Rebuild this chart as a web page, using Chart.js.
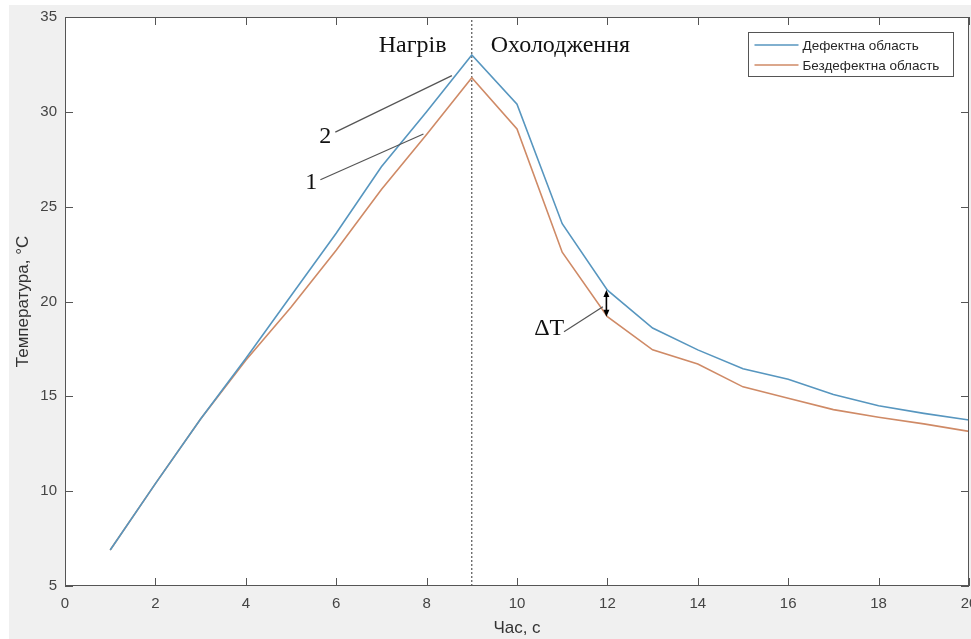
<!DOCTYPE html>
<html>
<head>
<meta charset="utf-8">
<script src="https://cdn.jsdelivr.net/npm/chart.js@4.4.0/dist/chart.umd.min.js"></script>
<style>
  html, body { margin: 0; padding: 0; background: #fff; }
  #wrap { width: 971px; height: 639px; }
</style>
</head>
<body>
<div id="wrap"><canvas id="temp-chart" width="971" height="639"></canvas></div>
<script>
// time, s
const timeSec = [1, 2, 3, 4, 5, 6, 7, 8, 9, 10, 11, 12, 13, 14, 15, 16, 17, 18, 19, 20];
// temperature over the defect, °C
const defectTemp = [6.9, 10.4, 13.8, 17.0, 20.3, 23.6, 27.1, 30.0, 33.0, 30.4, 24.1, 20.6, 18.6, 17.45, 16.45, 15.9, 15.1, 14.5, 14.1, 13.75];
// temperature of the sound area, °C
const intactTemp = [6.9, 10.4, 13.8, 16.9, 19.7, 22.7, 25.9, 28.8, 31.8, 29.1, 22.6, 19.2, 17.45, 16.7, 15.5, 14.9, 14.3, 13.9, 13.55, 13.15];
const seriesNames = ["Дефектна область", "Бездефектна область"];
const phaseSplit = 9;
const deltaAt = 12;

const BLUE = "#5796bf";
const ORANGE = "#cf8a66";
const AXIS = "#555555";
const SERIF = '24px "Liberation Serif", "Times New Roman", serif';
const SANS = '"Liberation Sans", Arial, sans-serif';

const toPoints = (ys) => timeSec.map((t, i) => ({ x: t, y: ys[i] }));

const backgroundPlugin = {
  id: "figureBg",
  beforeDraw(chart) {
    const { ctx, chartArea, width, height } = chart;
    ctx.save();
    ctx.fillStyle = "#ffffff";
    ctx.fillRect(0, 0, width, height);
    ctx.fillStyle = "#f0f0f0";
    ctx.fillRect(9, 5, width - 9, height - 5);
    ctx.fillStyle = "#ffffff";
    ctx.fillRect(chartArea.left, chartArea.top, chartArea.width, chartArea.height);
    ctx.restore();
  },
};

const boxPlugin = {
  id: "axesBox",
  afterDatasetsDraw(chart) {
    const { ctx, chartArea, scales } = chart;
    const { left, right, top, bottom } = chartArea;
    const tick = 8;
    ctx.save();
    ctx.strokeStyle = AXIS;
    ctx.lineWidth = 1;
    ctx.strokeRect(left + 0.5, top + 0.5, right - left - 1, bottom - top - 1);
    ctx.beginPath();
    scales.x.ticks.forEach((t) => {
      const x = Math.round(scales.x.getPixelForValue(t.value)) + 0.5;
      ctx.moveTo(x, bottom);
      ctx.lineTo(x, bottom - tick);
      ctx.moveTo(x, top);
      ctx.lineTo(x, top + tick);
    });
    scales.y.ticks.forEach((t) => {
      const y = Math.round(scales.y.getPixelForValue(t.value)) + 0.5;
      ctx.moveTo(left, y);
      ctx.lineTo(left + tick, y);
      ctx.moveTo(right, y);
      ctx.lineTo(right - tick, y);
    });
    ctx.stroke();
    ctx.restore();
  },
};

// annotation anchors in data units
const phaseLabels = [
  { text: "Нагрів", x: 8.44, y: 33.13, align: "right" },
  { text: "Охолодження", x: 9.42, y: 33.13, align: "left" },
  { text: "2", x: 5.76, y: 28.38, align: "center" },
  { text: "1", x: 5.45, y: 25.93, align: "center" },
  { text: "ΔT", x: 10.38, y: 18.25, align: "left" },
];
const leaderLines = [
  [5.98, 28.93, 8.56, 31.91],
  [5.65, 26.42, 7.93, 28.83],
  [11.04, 18.4, 11.9, 19.72],
];

const annotationPlugin = {
  id: "notes",
  afterDatasetsDraw(chart) {
    const { ctx, scales } = chart;
    const px = (v) => scales.x.getPixelForValue(v);
    const py = (v) => scales.y.getPixelForValue(v);
    ctx.save();
    ctx.fillStyle = "#111111";
    ctx.font = SERIF;
    ctx.textBaseline = "alphabetic";
    phaseLabels.forEach((lab) => {
      ctx.textAlign = lab.align;
      ctx.fillText(lab.text, px(lab.x), py(lab.y));
    });
    ctx.strokeStyle = "#555555";
    ctx.lineWidth = 1.2;
    leaderLines.forEach(([x0, y0, x1, y1]) => {
      ctx.beginPath();
      ctx.moveTo(px(x0), py(y0));
      ctx.lineTo(px(x1), py(y1));
      ctx.stroke();
    });

    // ΔT double arrow between the two curves
    const idx = timeSec.indexOf(deltaAt);
    const ax = px(deltaAt) - 1;
    const ya = py(defectTemp[idx]);
    const yb = py(intactTemp[idx]);
    ctx.strokeStyle = "#000000";
    ctx.fillStyle = "#000000";
    ctx.lineWidth = 1.6;
    ctx.beginPath();
    ctx.moveTo(ax, ya + 4);
    ctx.lineTo(ax, yb - 4);
    ctx.stroke();
    ctx.beginPath();
    ctx.moveTo(ax, ya);
    ctx.lineTo(ax - 3, ya + 7);
    ctx.lineTo(ax + 3, ya + 7);
    ctx.closePath();
    ctx.moveTo(ax, yb);
    ctx.lineTo(ax - 3, yb - 7);
    ctx.lineTo(ax + 3, yb - 7);
    ctx.closePath();
    ctx.fill();
    ctx.restore();
  },
};

const legendPlugin = {
  id: "boxLegend",
  afterDraw(chart) {
    const { ctx, chartArea } = chart;
    const boxW = 205;
    const boxH = 44;
    const bx = chartArea.right - 16 - boxW + 0.5;
    const by = chartArea.top + 15 + 0.5;
    ctx.save();
    ctx.fillStyle = "#ffffff";
    ctx.fillRect(bx, by, boxW, boxH);
    ctx.strokeStyle = "#555555";
    ctx.lineWidth = 1;
    ctx.strokeRect(bx, by, boxW, boxH);
    ctx.font = "13.5px " + SANS;
    ctx.textBaseline = "middle";
    ctx.textAlign = "left";
    [BLUE, ORANGE].forEach((col, i) => {
      const y = by + 12.5 + i * 20;
      ctx.strokeStyle = col;
      ctx.lineWidth = 1.5;
      ctx.beginPath();
      ctx.moveTo(bx + 6, y);
      ctx.lineTo(bx + 50, y);
      ctx.stroke();
      ctx.fillStyle = "#262626";
      ctx.fillText(seriesNames[i], bx + 54, y + 1);
    });
    ctx.restore();
  },
};

const ctx = document.getElementById("temp-chart").getContext("2d");
new Chart(ctx, {
  type: "line",
  data: {
    datasets: [
      {
        label: seriesNames[0],
        data: toPoints(defectTemp),
        borderColor: BLUE,
        borderWidth: 1.6,
        pointRadius: 0,
        tension: 0,
      },
      {
        label: seriesNames[1],
        data: toPoints(intactTemp),
        borderColor: ORANGE,
        borderWidth: 1.6,
        pointRadius: 0,
        tension: 0,
      },
      {
        label: "split",
        data: [{ x: phaseSplit, y: 5 }, { x: phaseSplit, y: 35 }],
        borderColor: "#333333",
        borderWidth: 1,
        borderDash: [2, 2],
        pointRadius: 0,
      },
    ],
  },
  options: {
    responsive: false,
    animation: false,
    layout: { padding: { left: 0, right: 2, top: 17, bottom: 0 } },
    plugins: {
      legend: { display: false },
      tooltip: { enabled: false },
    },
    scales: {
      x: {
        type: "linear",
        min: 0,
        max: 20,
        grid: { display: false, drawTicks: false },
        border: { display: false },
        ticks: { stepSize: 2, padding: 9, color: "#444444", font: { family: SANS, size: 15 } },
        title: {
          display: true,
          text: "Час, с",
          color: "#333333",
          font: { family: SANS, size: 17 },
          padding: { top: 1, bottom: 0 },
        },
        afterFit(scale) {
          scale.height = 53;
          scale.paddingLeft = 0;
          scale.paddingRight = 0;
        },
      },
      y: {
        min: 5,
        max: 35,
        grid: { display: false, drawTicks: false },
        border: { display: false },
        ticks: { stepSize: 5, padding: 8, color: "#444444", font: { family: SANS, size: 15 } },
        title: {
          display: true,
          text: "Температура, °С",
          color: "#333333",
          font: { family: SANS, size: 17 },
          padding: { top: 13.5, bottom: 0 },
        },
        afterFit(scale) {
          scale.width = 65;
          scale.paddingTop = 0;
          scale.paddingBottom = 0;
        },
      },
    },
  },
  plugins: [backgroundPlugin, boxPlugin, annotationPlugin, legendPlugin],
});
</script>
</body>
</html>
